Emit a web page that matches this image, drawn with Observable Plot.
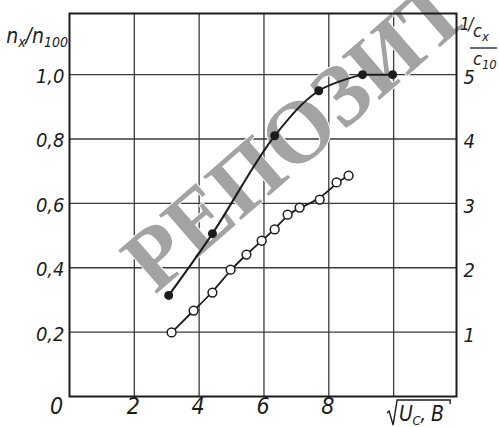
<!DOCTYPE html>
<html><head><meta charset="utf-8">
<script src="https://cdn.jsdelivr.net/npm/d3@7"></script>
<script src="https://cdn.jsdelivr.net/npm/@observablehq/plot@0.6"></script>
<style>body{margin:0;background:#fff} svg{display:block}</style>
</head><body><div id="chart"></div>
<script>
// filled points: n_x / n_100 (left axis)
const filledX = [3.06, 4.41, 6.33, 7.69, 9.04, 9.97];
const filledY = [0.314, 0.506, 0.81, 0.95, 1.0, 1.0];
// open points: (1/c_x)/(1/c_10), right axis 1..5 shown at left-axis value /5
const openX = [3.15, 3.83, 4.41, 4.97, 5.46, 5.93, 6.33, 6.73, 7.10, 7.72, 8.24, 8.61];
const openY = [0.199, 0.267, 0.323, 0.394, 0.441, 0.484, 0.519, 0.565, 0.587, 0.612, 0.665, 0.686];
const xTicks = [2, 4, 6, 8];
const xZero = [0];
const gridX = [2, 4, 6, 8, 10];
const yTicksLeft = [0.2, 0.4, 0.6, 0.8, 1.0];
const yTicksRight = [1, 2, 3, 4, 5];
const watermark = ["РЕПОЗИТ"];

const filled = filledX.map((x, i) => ({x, y: filledY[i]}));
const open = openX.map((x, i) => ({x, y: openY[i]}));
const rising = filled.slice(0, 5);
const plateau = filled.slice(4);
const INK = "#1c1c1c";
const FONT = "'Liberation Sans Narrow','DejaVu Sans Condensed',sans-serif";

const plot = Plot.plot({
  width: 499, height: 427,
  marginLeft: 69, marginRight: 43, marginTop: 13, marginBottom: 31,
  x: {domain: [0, 11.94], axis: null},
  y: {domain: [0, 1.19], axis: null},
  style: {fontFamily: FONT, fontStyle: "italic", background: "#fff", color: INK},
  marks: [
    Plot.ruleX(gridX, {stroke: "#3a3a3a", strokeWidth: 1.3}),
    Plot.ruleY(yTicksLeft, {stroke: "#3a3a3a", strokeWidth: 1.3}),
    Plot.text(watermark, {frameAnchor: "middle", dx: 33, dy: -70, rotate: -41, fontSize: 88,
      fontFamily: "'Liberation Serif','DejaVu Serif',serif", fontStyle: "normal", fontWeight: "bold",
      fill: "#a3a3a3", stroke: "white", strokeWidth: 2}),
    Plot.frame({stroke: INK, strokeWidth: 2}),
    Plot.line(open, {x: "x", y: "y", curve: "basis", stroke: INK, strokeWidth: 1.8}),
    Plot.line(rising, {x: "x", y: "y", curve: "catmull-rom", stroke: INK, strokeWidth: 2}),
    Plot.line(plateau, {x: "x", y: "y", stroke: INK, strokeWidth: 2}),
    Plot.dot(filled, {x: "x", y: "y", r: 4.5, fill: INK}),
    Plot.dot(open, {x: "x", y: "y", r: 4.4, fill: "white", stroke: INK, strokeWidth: 1.5}),
    Plot.text(yTicksLeft, {y: d => d, text: d => d.toFixed(1).replace(".", ","), frameAnchor: "left",
      dx: -5, dy: 2, textAnchor: "end", fontSize: 20, fontStyle: "italic", fill: INK}),
    Plot.text(yTicksRight, {y: d => d / 5, text: d => String(d), frameAnchor: "right",
      dx: 7, dy: 3, textAnchor: "start", fontSize: 20, fontStyle: "italic", fill: INK}),
    Plot.text(xTicks, {x: d => d, text: d => String(d), frameAnchor: "bottom",
      dy: 17, dx: -1, fontSize: 23, fontStyle: "italic", fill: INK}),
    Plot.text(xZero, {x: d => d, text: d => String(d), frameAnchor: "bottom",
      dy: 17, dx: -13, fontSize: 23, fontStyle: "italic", fill: INK})
  ]
});

document.getElementById("chart").appendChild(plot);

// axis titles with subscripts
const svg = d3.select(plot);
const sx = plot.scale("x"), sy = plot.scale("y");
const g = svg.append("g").attr("font-family", FONT).attr("font-style", "italic")
  .attr("text-anchor", "start").attr("fill", INK);

// left title n_x / n_100
const tl = g.append("text").attr("x", 68).attr("y", sy.apply(1.0) - 31).attr("text-anchor", "end").attr("font-size", 21);
tl.append("tspan").text("n");
tl.append("tspan").attr("font-size", 14).attr("dy", 4).text("x");
tl.append("tspan").attr("dy", -4).text("/n");
tl.append("tspan").attr("font-size", 14).attr("dy", 4).text("100");

// right title 1/ (c_x / c_10)
const rx = sx.apply(11.94);
g.append("text").attr("x", rx + 4).attr("y", 30).attr("font-size", 17).attr("letter-spacing", -1.5).text("1/");
const c1 = g.append("text").attr("x", rx + 17).attr("y", 37).attr("font-size", 18);
c1.append("tspan").text("c");
c1.append("tspan").attr("font-size", 13).attr("dy", 4).text("x");
g.append("line").attr("x1", rx + 14).attr("x2", rx + 41).attr("y1", 48).attr("y2", 48).attr("stroke", INK).attr("stroke-width", 1.3);
const c2 = g.append("text").attr("x", rx + 17).attr("y", 65).attr("font-size", 18);
c2.append("tspan").text("c");
c2.append("tspan").attr("font-size", 13).attr("dy", 4).text("10");

// bottom title √U_C, В (radical drawn as a path)
const bx = sx.apply(10);
g.append("path")
  .attr("d", `M${bx - 6},413 L${bx - 4},411 L${bx},425 L${bx + 4},400 L${bx + 57},400 L${bx + 57},404`)
  .attr("fill", "none").attr("stroke", INK).attr("stroke-width", 1.4);
const bt = g.append("text").attr("x", bx + 6).attr("y", 421).attr("font-size", 21).attr("letter-spacing", -0.5);
bt.append("tspan").text("U");
bt.append("tspan").attr("font-size", 13).attr("dy", 4).text("C");
bt.append("tspan").attr("dy", -4).text(", В");
</script>
</body></html>
